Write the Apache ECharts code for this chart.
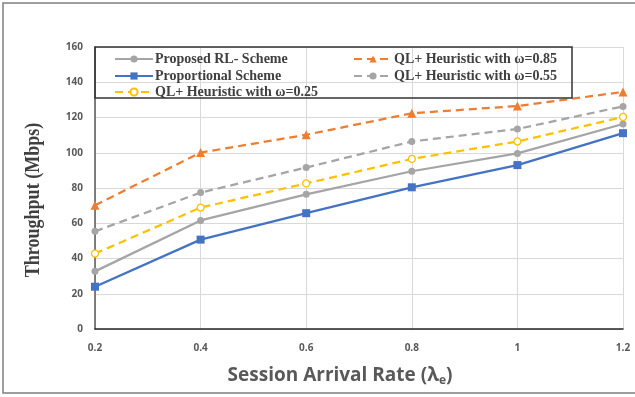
<!DOCTYPE html>
<html>
<head>
<meta charset="utf-8">
<script src="https://cdn.jsdelivr.net/npm/echarts@6/dist/echarts.min.js"></script>
<style>
html, body { margin: 0; padding: 0; background: #fff; }
#chart1 { width: 635px; height: 397px; }
</style>
</head>
<body>
<div id="chart1"></div>
<script>
var rateList = ['0.2', '0.4', '0.6', '0.8', '1', '1.2'];
var proposedList = [32.7, 61.6, 76.4, 89.5, 99.6, 116.3];
var proportionalList = [24.0, 50.7, 65.7, 80.4, 93.0, 111.1];
var ql085List = [70.2, 100.1, 110.2, 122.4, 126.5, 134.5];
var ql055List = [55.4, 77.4, 91.6, 106.4, 113.5, 126.3];
var ql025List = [42.8, 68.9, 82.6, 96.5, 106.4, 120.3];
var yTicks = [0, 20, 40, 60, 80, 100, 120, 140, 160];

var names = ['Proposed RL- Scheme', 'Proportional Scheme', 'QL+ Heuristic with \u03c9=0.25',
	'QL+ Heuristic with \u03c9=0.85', 'QL+ Heuristic with \u03c9=0.55'];

// one legend per item so the two-column box can be placed like the original
var legendPos = [[109, 47], [109, 64], [109, 80], [348, 47], [348, 64]];
var legends = [];
for (var i = 0; i < names.length; i++) {
	legends.push({
		data: [names[i]],
		left: legendPos[i][0],
		top: legendPos[i][1],
		itemWidth: 38,
		itemHeight: 9,
		itemGap: 2,
		textStyle: {
			fontFamily: 'Liberation Serif',
			fontWeight: 'bold',
			fontSize: 14,
			color: '#404040',
			padding: [0, 0, 0, -3]
		}
	});
}

var chart = echarts.init(document.getElementById('chart1'));
chart.setOption({
	animation: false,
	backgroundColor: '#fff',
	graphic: [{
		type: 'rect',
		shape: { x: 3, y: 3, width: 640, height: 390 },
		style: { fill: 'none', stroke: '#7f7f7f', lineWidth: 1.5 },
		z: -1
	}, {
		type: 'rect',
		shape: { x: 95, y: 47, width: 477, height: 51 },
		style: { fill: 'none', stroke: '#333', lineWidth: 1.5 },
		z: 10
	}, {
		// y axis title, Times-like condensed look
		type: 'text',
		x: 33,
		y: 200,
		rotation: Math.PI / 2,
		scaleX: 0.82,
		style: {
			text: 'Throughput (Mbps)',
			font: 'bold 22px "Liberation Serif"',
			fill: '#404040',
			align: 'center',
			verticalAlign: 'middle'
		}
	}],
	legend: legends,
	grid: { left: 95, right: 12, top: 47, bottom: 68 },
	xAxis: {
		type: 'category',
		data: rateList,
		boundaryGap: false,
		name: 'Session Arrival Rate (\u03bb{sub|e})',
		nameLocation: 'middle',
		nameGap: 36,
		nameTextStyle: {
			fontFamily: 'Open Sans',
			fontWeight: 'bold',
			fontSize: 19,
			color: '#595959',
			padding: [0, 38, 0, 0],
			rich: {
				sub: { fontFamily: 'Open Sans', fontWeight: 'bold', fontSize: 12, color: '#595959', padding: [10, 0, 0, 0] }
			}
		},
		axisLine: { lineStyle: { color: '#262626', width: 1.5 } },
		axisTick: { show: false },
		axisLabel: { color: '#595959', fontWeight: 'bold', fontSize: 10, fontFamily: 'Open Sans', margin: 14 },
		splitLine: { show: true, lineStyle: { color: '#d9d9d9', width: 1 } }
	},
	yAxis: {
		type: 'value',
		min: yTicks[0],
		max: yTicks[yTicks.length - 1],
		interval: 20,
		axisLine: { show: true, lineStyle: { color: '#595959', width: 1.5 } },
		axisTick: { show: false },
		axisLabel: { color: '#595959', fontWeight: 'bold', fontSize: 10, fontFamily: 'Open Sans', margin: 12 },
		splitLine: { lineStyle: { color: '#d9d9d9', width: 1 } }
	},
	series: [{
		name: names[0],
		type: 'line',
		data: proposedList,
		symbol: 'circle',
		symbolSize: 7,
		itemStyle: { color: '#a5a5a5' },
		lineStyle: { color: '#a5a5a5', width: 2.25 }
	}, {
		name: names[1],
		type: 'line',
		data: proportionalList,
		symbol: 'rect',
		symbolSize: 8,
		itemStyle: { color: '#4472c4' },
		lineStyle: { color: '#4472c4', width: 2.25 }
	}, {
		name: names[2],
		type: 'line',
		data: ql025List,
		symbol: 'circle',
		symbolSize: 7,
		itemStyle: { color: '#fff', borderColor: '#ffc000', borderWidth: 1.3 },
		lineStyle: { color: '#ffc000', width: 2.25, type: [8, 5] }
	}, {
		name: names[3],
		type: 'line',
		data: ql085List,
		symbol: 'triangle',
		symbolSize: 9,
		itemStyle: { color: '#ed7d31' },
		lineStyle: { color: '#ed7d31', width: 2.25, type: [8, 5] }
	}, {
		name: names[4],
		type: 'line',
		data: ql055List,
		symbol: 'circle',
		symbolSize: 7,
		itemStyle: { color: '#a5a5a5' },
		lineStyle: { color: '#a5a5a5', width: 2.25, type: [8, 5] }
	}]
});
</script>
</body>
</html>
